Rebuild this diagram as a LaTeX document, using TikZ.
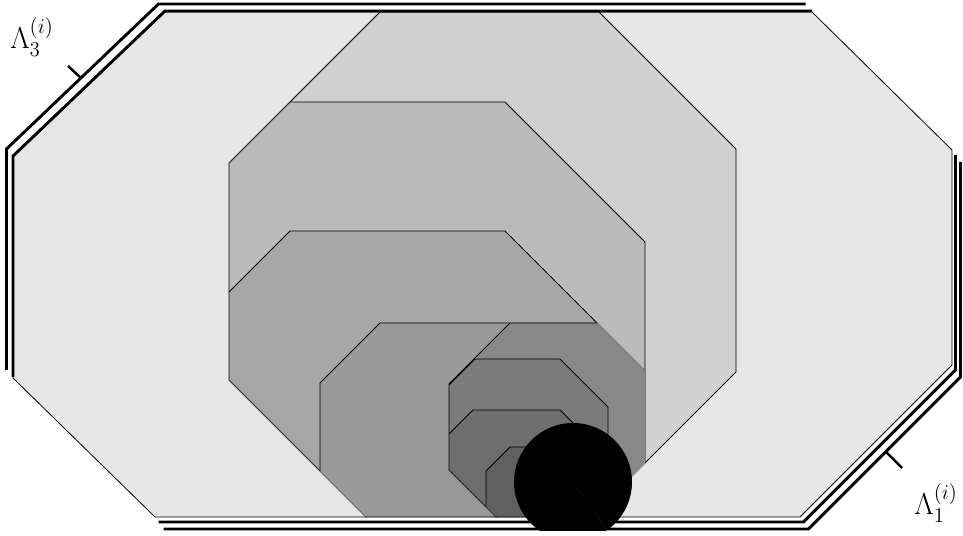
\documentclass[tikz,border=0pt]{standalone}
\usepackage{amsmath}
\usepackage{tikz}
\definecolor{lvlA}{HTML}{E6E6E6}
\definecolor{lvlB}{HTML}{D0D0D0}
\definecolor{lvlC}{HTML}{BABABA}
\definecolor{lvlD}{HTML}{A6A6A6}
\definecolor{lvlE}{HTML}{999999}
\definecolor{lvlF}{HTML}{888888}
\definecolor{lvlG}{HTML}{7B7B7B}
\definecolor{lvlH}{HTML}{6E6E6E}
\definecolor{lvlI}{HTML}{606060}

\begin{document}
\begin{tikzpicture}[
  x=0.02cm, y=-0.02cm,
  region/.style={draw=black, line width=0.45pt},
  rim/.style={draw=black, line width=1.65pt},
  tickmark/.style={draw=black, line width=1.4pt},
  lam/.style={font=\fontsize{18}{20}\selectfont, inner sep=0pt},
  octA/.style={insert path={(oA) -- (oB) -- (oC) -- (oD) -- (oE) -- (oF) -- (oG) -- (oH) -- cycle}},
  octB/.style={insert path={(380,12) -- (599,12) -- (736,149) -- (736,372) -- (567,541) -- (390,541) -- (229,380) -- (229,163) -- cycle}},
  octC/.style={insert path={(290,102) -- (505,102) -- (645,242) -- (645,541) -- (390,541) -- (229,380) -- (229,163) -- cycle}},
  octD/.style={insert path={(290,231) -- (505,231) -- (645,371) -- (645,541) -- (390,541) -- (229,380) -- (229,292) -- cycle}},
  octE/.style={insert path={(380,323) -- (700,323) -- (700,541) -- (320,541) -- (320,383) -- cycle}},
  octF/.style={insert path={(510,323) -- (700,323) -- (700,541) -- (520,541) -- (449,470) -- (449,384) -- cycle}},
  octG/.style={insert path={(475,359) -- (560,359) -- (608,407) -- (608,541) -- (520,541) -- (449,470) -- (449,385) -- cycle}},
  octH/.style={insert path={(473,410) -- (560,410) -- (608,458) -- (608,541) -- (520,541) -- (449,470) -- (449,434) -- cycle}},
  octI/.style={insert path={(510,447) -- (600,447) -- (600,541) -- (486,541) -- (486,471) -- cycle}},
]
  \useasboundingbox (0,0) rectangle (963,536);

  \coordinate (oA) at (165,12);
  \coordinate (oB) at (812,12);
  \coordinate (oC) at (952,150);
  \coordinate (oD) at (952,365);
  \coordinate (oE) at (800,517);
  \coordinate (oF) at (155,517);
  \coordinate (oG) at (13,378);
  \coordinate (oH) at (13,157);

  \begin{scope}
    \fill[lvlA, octA];
    \clip[octA];
    \filldraw[region, fill=lvlB, octB];
    \clip[octB];
    \filldraw[region, fill=lvlC, octC];
    \clip[octC];
    \filldraw[region, fill=lvlD, octD];
    \clip[octD];
    \filldraw[region, fill=lvlE, octE];
    \clip[octE];
    \filldraw[region, fill=lvlF, octF];
    \clip[octF];
    \filldraw[region, fill=lvlG, octG];
    \clip[octG];
    \filldraw[region, fill=lvlH, octH];
    \clip[octH];
    \filldraw[region, fill=lvlI, octI];
  \end{scope}
  \draw[region, octA];

  \draw[rim] ([shift={(0,-1)}]oG) -- ([shift={(0,-1)}]oH) -- ([shift={(0,-1)}]oA) -- ([shift={(0,-1)}]oB);
  \draw[rim] ([shift={(-6.5,-8)}]oG) -- ([shift={(-6.5,-8)}]oH) -- ([shift={(-6.5,-8)}]oA) -- ([shift={(-6.5,-8)}]oB);
  \draw[rim] ([shift={(3.5,5)}]oC) -- ([shift={(3.5,5)}]oD) -- ([shift={(3.5,5)}]oE) -- ([shift={(3.5,5)}]oF);
  \draw[rim] ([shift={(8.5,12)}]oC) -- ([shift={(8.5,12)}]oD) -- ([shift={(8.5,12)}]oE) -- ([shift={(8.5,12)}]oF);

  \coordinate (disc) at (573,482);
  \begin{scope}
    \clip (0,0) rectangle (963,530.5);
    \fill[black] (disc) circle[radius=59];
  \end{scope}
  \draw[black!92, line width=0.2pt] (disc) -- (607,530);

  \coordinate (foot3) at (81,78);
  \coordinate (foot1) at (886,452);
  \draw[tickmark] (foot3) -- ++(-13,-12);
  \draw[tickmark] (foot1) -- ++(16,16);

  \node[lam] (lab3) at (32,37) {$\Lambda_3^{(i)}$};
  \node[lam] (lab1) at (936,503) {$\Lambda_1^{(i)}$};
\end{tikzpicture}
\end{document}
